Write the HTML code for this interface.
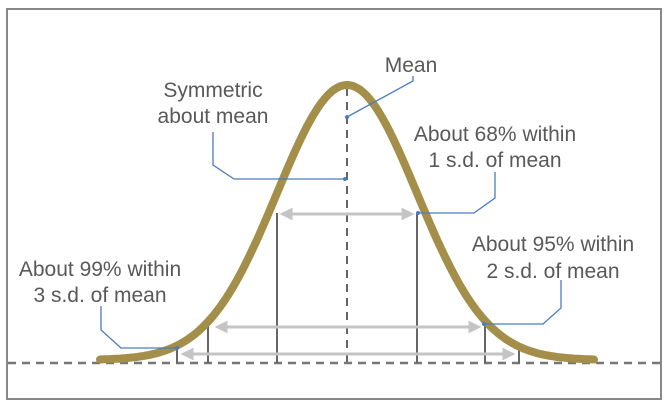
<!DOCTYPE html>
<html><head><meta charset="utf-8"><style>
html,body{margin:0;padding:0;background:#fff}
svg{display:block}
text{font-family:"Liberation Sans",sans-serif;font-size:21px;fill:#595959;text-anchor:middle}
</style></head><body>
<svg width="671" height="414" viewBox="0 0 671 414">
<rect x="7" y="9" width="654" height="390" fill="none" stroke="#888" stroke-width="2"/>
<line x1="8" y1="363" x2="660" y2="363" stroke="#777" stroke-width="2.5" stroke-dasharray="8,6"/>
<line x1="347" y1="88" x2="347" y2="363" stroke="#666" stroke-width="2" stroke-dasharray="8,6"/>
<g stroke="#666" stroke-width="2">
<line x1="177" y1="345" x2="177" y2="363"/><line x1="208" y1="326" x2="208" y2="363"/>
<line x1="277" y1="213" x2="277" y2="363"/><line x1="417" y1="213" x2="417" y2="363"/>
<line x1="485" y1="326" x2="485" y2="363"/><line x1="519" y1="345" x2="519" y2="363"/>
</g>
<g stroke="#c4c4c4" stroke-width="3" fill="#c4c4c4">
<line x1="288" y1="214" x2="406" y2="214"/><polygon points="283,214 291,210 291,218"/><polygon points="411,214 403,210 403,218"/>
<line x1="223" y1="327" x2="473" y2="327"/><polygon points="218,327 226,323 226,331"/><polygon points="478,327 470,323 470,331"/>
<line x1="189" y1="354" x2="507" y2="354"/><polygon points="184,354 192,350 192,358"/><polygon points="512,354 504,350 504,358"/>
</g>
<path id="c" fill="none" stroke="#a38f4a" stroke-width="8" stroke-linecap="round"/>
<g stroke="#4a7cc0" stroke-width="1.3" fill="none">
<polyline points="413,76 413,81 347,117"/>
<polyline points="213,132 213,165 234,179 345,179"/>
<polyline points="495,172 495,198 474,213 418,213"/>
<polyline points="561,280 561,308 543,324 484,324"/>
<polyline points="101,306 101,330 121,348 177,348"/>
</g>
<g fill="#4a7cc0"><circle cx="347" cy="117" r="2"/><circle cx="345" cy="179" r="2"/><circle cx="418" cy="213" r="2"/><circle cx="484" cy="324" r="2"/><circle cx="177" cy="348" r="2"/></g>
<text x="411" y="72">Mean</text>
<text x="213" y="97">Symmetric</text><text x="213" y="123">about mean</text>
<text x="495" y="141">About 68% within</text><text x="495" y="167">1 s.d. of mean</text>
<text x="553" y="251">About 95% within</text><text x="553" y="278">2 s.d. of mean</text>
<text x="100" y="276">About 99% within</text><text x="100" y="302">3 s.d. of mean</text>
</svg>
<script>
var d="";for(var x=100;x<=595;x+=2){var y=360-275*Math.exp(-Math.pow((x-347)/70,2)/2);d+=(x==100?"M":"L")+x+","+y.toFixed(1)+" ";}
document.getElementById("c").setAttribute("d",d);
</script>
</body></html>
